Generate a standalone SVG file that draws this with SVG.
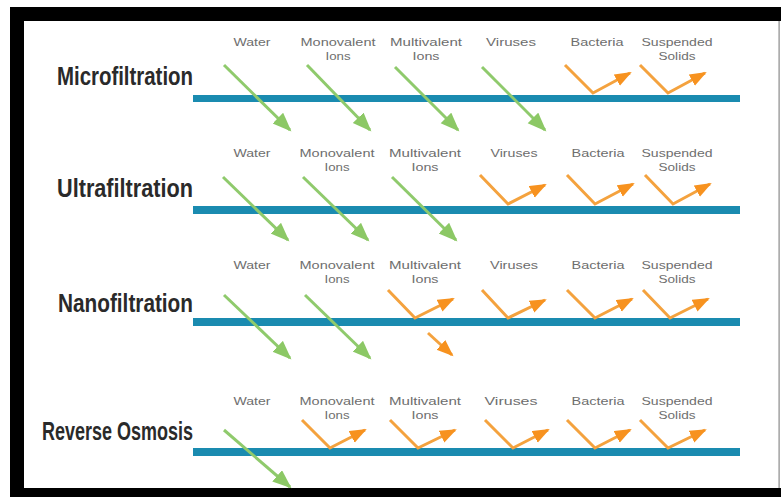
<svg xmlns="http://www.w3.org/2000/svg" width="781" height="497" viewBox="0 0 781 497">
<defs>
<style>
.title{font-family:"Liberation Sans",Arial,sans-serif;font-weight:bold;font-size:25px;fill:#2a2a2a}
.lbl{font-family:"Liberation Sans",Arial,sans-serif;font-size:11px;fill:#6e6e6e;text-anchor:middle}
.mem{fill:#1a8bb0}
.g{stroke:#8fca6c;stroke-width:3;fill:none}
.o{stroke:#f4a23e;stroke-width:3;fill:none;stroke-linejoin:miter}
</style>
<marker id="gh" markerUnits="userSpaceOnUse" markerWidth="20" markerHeight="16" refX="17" refY="7.5" orient="auto">
<path d="M0,0 L19,7.5 L0,15 z" fill="#8cc865"/>
</marker>
<marker id="oh" markerUnits="userSpaceOnUse" markerWidth="18" markerHeight="14" refX="15" refY="6.5" orient="auto">
<path d="M0,0 L17,6.5 L0,13 z" fill="#f7921f"/>
</marker>
</defs>
<rect width="781" height="497" fill="#ffffff"/>
<g id="frame">
<rect x="10" y="7" width="771" height="490" fill="#000"/>
<rect x="24" y="21" width="757" height="467" fill="#fff"/>
<rect x="778.5" y="21" width="1.2" height="467" fill="#8a8a8a"/>
</g>
<g id="row-microfiltration">
<text class="title" x="57" y="85" textLength="136" lengthAdjust="spacingAndGlyphs">Microfiltration</text>
<rect class="mem" x="193" y="95" width="547" height="7"/>
<text class="lbl" x="252" y="46" textLength="37" lengthAdjust="spacingAndGlyphs">Water</text>
<text class="lbl" x="338" y="46" textLength="75" lengthAdjust="spacingAndGlyphs">Monovalent</text>
<text class="lbl" x="338" y="59.5" textLength="25" lengthAdjust="spacingAndGlyphs">Ions</text>
<text class="lbl" x="426" y="46" textLength="72" lengthAdjust="spacingAndGlyphs">Multivalent</text>
<text class="lbl" x="426" y="59.5" textLength="27" lengthAdjust="spacingAndGlyphs">Ions</text>
<text class="lbl" x="511" y="46" textLength="50" lengthAdjust="spacingAndGlyphs">Viruses</text>
<text class="lbl" x="597" y="46" textLength="53" lengthAdjust="spacingAndGlyphs">Bacteria</text>
<text class="lbl" x="677" y="46" textLength="71" lengthAdjust="spacingAndGlyphs">Suspended</text>
<text class="lbl" x="677" y="59.5" textLength="37" lengthAdjust="spacingAndGlyphs">Solids</text>
</g>
<g id="row-ultrafiltration">
<text class="title" x="57" y="197" textLength="136" lengthAdjust="spacingAndGlyphs">Ultrafiltration</text>
<rect class="mem" x="193" y="206" width="547" height="8"/>
<text class="lbl" x="252" y="157" textLength="37" lengthAdjust="spacingAndGlyphs">Water</text>
<text class="lbl" x="337" y="157" textLength="75" lengthAdjust="spacingAndGlyphs">Monovalent</text>
<text class="lbl" x="337" y="170.5" textLength="25" lengthAdjust="spacingAndGlyphs">Ions</text>
<text class="lbl" x="425" y="157" textLength="72" lengthAdjust="spacingAndGlyphs">Multivalent</text>
<text class="lbl" x="425" y="170.5" textLength="27" lengthAdjust="spacingAndGlyphs">Ions</text>
<text class="lbl" x="514" y="157" textLength="47" lengthAdjust="spacingAndGlyphs">Viruses</text>
<text class="lbl" x="598" y="157" textLength="53" lengthAdjust="spacingAndGlyphs">Bacteria</text>
<text class="lbl" x="677" y="157" textLength="71" lengthAdjust="spacingAndGlyphs">Suspended</text>
<text class="lbl" x="677" y="170.5" textLength="37" lengthAdjust="spacingAndGlyphs">Solids</text>
</g>
<g id="row-nanofiltration">
<text class="title" x="58" y="312" textLength="135" lengthAdjust="spacingAndGlyphs">Nanofiltration</text>
<rect class="mem" x="193" y="318" width="547" height="8"/>
<text class="lbl" x="252" y="269" textLength="37" lengthAdjust="spacingAndGlyphs">Water</text>
<text class="lbl" x="337" y="269" textLength="75" lengthAdjust="spacingAndGlyphs">Monovalent</text>
<text class="lbl" x="337" y="282.5" textLength="25" lengthAdjust="spacingAndGlyphs">Ions</text>
<text class="lbl" x="425" y="269" textLength="72" lengthAdjust="spacingAndGlyphs">Multivalent</text>
<text class="lbl" x="425" y="282.5" textLength="27" lengthAdjust="spacingAndGlyphs">Ions</text>
<text class="lbl" x="514" y="269" textLength="48" lengthAdjust="spacingAndGlyphs">Viruses</text>
<text class="lbl" x="598" y="269" textLength="53" lengthAdjust="spacingAndGlyphs">Bacteria</text>
<text class="lbl" x="677" y="269" textLength="71" lengthAdjust="spacingAndGlyphs">Suspended</text>
<text class="lbl" x="677" y="282.5" textLength="37" lengthAdjust="spacingAndGlyphs">Solids</text>
</g>
<g id="row-reverse-osmosis">
<text class="title" x="42" y="440" textLength="151" lengthAdjust="spacingAndGlyphs">Reverse Osmosis</text>
<rect class="mem" x="193" y="448" width="547" height="8"/>
<text class="lbl" x="252" y="405" textLength="37" lengthAdjust="spacingAndGlyphs">Water</text>
<text class="lbl" x="337" y="405" textLength="75" lengthAdjust="spacingAndGlyphs">Monovalent</text>
<text class="lbl" x="337" y="418.5" textLength="25" lengthAdjust="spacingAndGlyphs">Ions</text>
<text class="lbl" x="425" y="405" textLength="72" lengthAdjust="spacingAndGlyphs">Multivalent</text>
<text class="lbl" x="425" y="418.5" textLength="27" lengthAdjust="spacingAndGlyphs">Ions</text>
<text class="lbl" x="511" y="405" textLength="53" lengthAdjust="spacingAndGlyphs">Viruses</text>
<text class="lbl" x="598" y="405" textLength="53" lengthAdjust="spacingAndGlyphs">Bacteria</text>
<text class="lbl" x="677" y="405" textLength="71" lengthAdjust="spacingAndGlyphs">Suspended</text>
<text class="lbl" x="677" y="418.5" textLength="37" lengthAdjust="spacingAndGlyphs">Solids</text>
</g>
<g id="connectors">
<!-- row 1 -->
<line class="g" x1="224" y1="65" x2="290" y2="130" marker-end="url(#gh)"/>
<line class="g" x1="307" y1="65" x2="370" y2="130" marker-end="url(#gh)"/>
<line class="g" x1="395" y1="67" x2="458" y2="130" marker-end="url(#gh)"/>
<line class="g" x1="482" y1="67" x2="545" y2="130" marker-end="url(#gh)"/>
<polyline class="o" points="565,65 593,93 630,73" marker-end="url(#oh)"/>
<polyline class="o" points="640,65 668,93 705,73" marker-end="url(#oh)"/>
<!-- row 2 -->
<line class="g" x1="223" y1="177" x2="288" y2="240" marker-end="url(#gh)"/>
<line class="g" x1="303" y1="177" x2="368" y2="240" marker-end="url(#gh)"/>
<line class="g" x1="392" y1="177" x2="456" y2="240" marker-end="url(#gh)"/>
<polyline class="o" points="480,175 508,204 545,185" marker-end="url(#oh)"/>
<polyline class="o" points="567,175 595,204 633,184" marker-end="url(#oh)"/>
<polyline class="o" points="645,175 673,204 710,184" marker-end="url(#oh)"/>
<!-- row 3 -->
<line class="g" x1="224" y1="295" x2="290" y2="358" marker-end="url(#gh)"/>
<line class="g" x1="305" y1="295" x2="370" y2="358" marker-end="url(#gh)"/>
<polyline class="o" points="388,290 415,318 453,299" marker-end="url(#oh)"/>
<line class="o" x1="428" y1="333" x2="452" y2="355" marker-end="url(#oh)"/>
<polyline class="o" points="482,290 508,318 545,300" marker-end="url(#oh)"/>
<polyline class="o" points="567,290 595,318 632,299" marker-end="url(#oh)"/>
<polyline class="o" points="643,290 670,318 708,299" marker-end="url(#oh)"/>
<!-- row 4 -->
<line class="g" x1="224" y1="430" x2="290" y2="487" marker-end="url(#gh)"/>
<polyline class="o" points="302,420 330,448 365,430" marker-end="url(#oh)"/>
<polyline class="o" points="390,420 418,448 455,430" marker-end="url(#oh)"/>
<polyline class="o" points="485,420 513,448 548,430" marker-end="url(#oh)"/>
<polyline class="o" points="567,420 595,448 630,430" marker-end="url(#oh)"/>
<polyline class="o" points="640,420 668,448 705,430" marker-end="url(#oh)"/>
</g>
</svg>
